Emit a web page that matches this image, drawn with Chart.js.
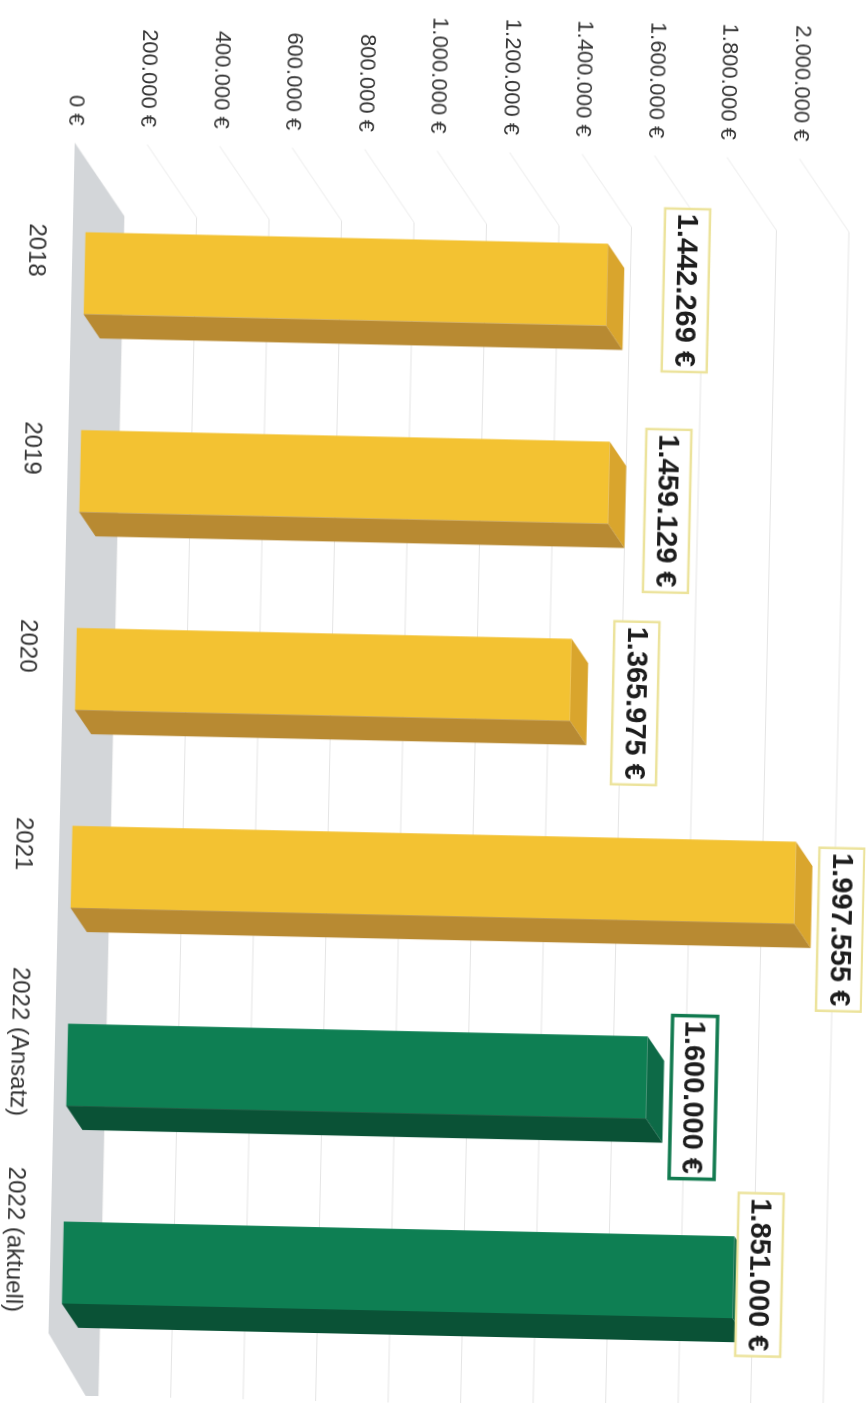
<!DOCTYPE html>
<html lang="de">
<head>
<meta charset="utf-8">
<title>Beträge 2018 bis 2022</title>
<script src="https://cdn.jsdelivr.net/npm/chart.js@4.4.1/dist/chart.umd.min.js"></script>
<style>
  html, body { margin: 0; padding: 0; background: #fff; overflow: hidden; }
  #blatt { position: relative; width: 868px; height: 1403px; overflow: hidden; background: #fff; }
  /* das Diagramm liegt im Original quer (und leicht schief eingescannt) */
  #diagramm { position: absolute; left: -267.5px; top: 267.5px; width: 1403px; height: 868px;
              transform: rotate(91.26deg); transform-origin: 50% 50%; }
</style>
</head>
<body>
<div id="blatt"><canvas id="diagramm" width="1403" height="868"></canvas></div>
<script>
// Daten
const jahre = ['2018', '2019', '2020', '2021', '2022 (Ansatz)', '2022 (aktuell)'];
const betraege = [1442269, 1459129, 1365975, 1997555, 1600000, 1851000];
const achseMin = 0;
const achseMax = 2000000;
const achseSchritt = 200000;

// Farben (Vorderseite, Deckel, Seite) je Balken
const gelb = ['#f3c232', '#d9a52d', '#b88a32'];
const gruen = ['#0e7f53', '#0d6a47', '#0a5236'];
const balkenFarben = [gelb, gelb, gelb, gelb, gruen, gruen];
const rahmenFarben = ['#ece39c', '#ece39c', '#ece39c', '#ece39c', '#117a4f', '#ece39c'];
// Lage der Wertfelder, von Hand verschoben wie im Original
const feldVersatz = [4, 27, 22, 46, 19, -3];
const feldAbstand = [-79, -59, -65, -46, -47, -26];

function euro(v) {
  return String(v).replace(/\B(?=(\d{3})+(?!\d))/g, '.') + ' €';
}

Chart.defaults.font.family = '"Liberation Sans", Arial, sans-serif';

const tiefe = { x: 24, y: -17 };

const dreiD = {
  id: 'dreiD',
  beforeDatasetsDraw(chart) {
    const ctx = chart.ctx;
    const ca = chart.chartArea;
    const y = chart.scales.y;
    const y0 = y.getPixelForValue(0);
    ctx.save();
    ctx.lineWidth = 1.2;
    y.ticks.forEach(t => {
      const yv = y.getPixelForValue(t.value);
      // Seitenwand
      ctx.strokeStyle = 'rgba(0,0,0,0.06)';
      ctx.beginPath();
      ctx.moveTo(ca.left - 31, yv + 12.5);
      ctx.lineTo(ca.left + 41, yv - 38.5);
      ctx.stroke();
      // Rückwand
      ctx.strokeStyle = 'rgba(0,0,0,0.1)';
      ctx.beginPath();
      ctx.moveTo(ca.left + 41, yv - 38.5);
      ctx.lineTo(chart.width, yv - 38.5);
      ctx.stroke();
    });
    // Boden
    ctx.fillStyle = '#d3d6d9';
    ctx.beginPath();
    ctx.moveTo(ca.left - 31, y0 + 12.5);
    ctx.lineTo(ca.left + 41, y0 - 38.5);
    ctx.lineTo(chart.width + 20, y0 - 38.5);
    ctx.lineTo(ca.right - 28, y0 + 12.5);
    ctx.closePath();
    ctx.fill();
    ctx.restore();
  },
  afterDatasetsDraw(chart) {
    const ctx = chart.ctx;
    const meta = chart.getDatasetMeta(0);
    ctx.save();
    meta.data.forEach((bar, i) => {
      const f = balkenFarben[i];
      const l = bar.x - bar.width / 2;
      const r = bar.x + bar.width / 2;
      // Deckel
      ctx.fillStyle = f[1];
      ctx.beginPath();
      ctx.moveTo(l, bar.y);
      ctx.lineTo(r, bar.y);
      ctx.lineTo(r + tiefe.x, bar.y + tiefe.y);
      ctx.lineTo(l + tiefe.x, bar.y + tiefe.y);
      ctx.closePath();
      ctx.fill();
      // Seite
      ctx.fillStyle = f[2];
      ctx.beginPath();
      ctx.moveTo(r, bar.y);
      ctx.lineTo(r, bar.base);
      ctx.lineTo(r + tiefe.x, bar.base + tiefe.y);
      ctx.lineTo(r + tiefe.x, bar.y + tiefe.y);
      ctx.closePath();
      ctx.fill();

      // Wertfeld
      const cx = bar.x + feldVersatz[i];
      const cy = bar.y + feldAbstand[i];
      const w = 163, h = 45;
      ctx.fillStyle = '#fff';
      ctx.fillRect(cx - w / 2, cy - h / 2, w, h);
      ctx.strokeStyle = rahmenFarben[i];
      ctx.lineWidth = i === 4 ? 3.5 : 2.5;
      ctx.strokeRect(cx - w / 2, cy - h / 2, w, h);
      ctx.fillStyle = '#1d1d1d';
      ctx.font = 'bold 29px "Liberation Sans", Arial, sans-serif';
      ctx.textAlign = 'center';
      ctx.textBaseline = 'middle';
      ctx.fillText(euro(betraege[i]), cx, cy + 1);
    });
    ctx.restore();
  }
};

new Chart(document.getElementById('diagramm'), {
  type: 'bar',
  data: {
    labels: jahre,
    datasets: [{
      data: betraege,
      backgroundColor: balkenFarben.map(f => f[0]),
      borderWidth: 0,
      barPercentage: 0.414,
      categoryPercentage: 1.0
    }]
  },
  options: {
    responsive: false,
    devicePixelRatio: 1,
    animation: false,
    layout: { padding: { top: 68.5, right: 34, bottom: 0, left: 0 } },
    plugins: { legend: { display: false }, tooltip: { enabled: false } },
    scales: {
      x: {
        grid: { display: false, drawTicks: false },
        border: { display: false },
        ticks: {
          color: '#333',
          font: { size: 24 },
          padding: 34,
          labelOffset: -22,
          maxRotation: 0,
          autoSkip: false
        },
        afterFit: s => { s.height = 74.5; }
      },
      y: {
        min: achseMin,
        max: achseMax,
        grid: { display: false, drawTicks: false },
        border: { display: false },
        ticks: {
          stepSize: achseSchritt,
          color: '#333',
          font: { size: 22 },
          padding: 48.5,
          labelOffset: 12.5,
          callback: v => euro(v)
        },
        afterFit: s => { s.width = 181.5; }
      }
    }
  },
  plugins: [dreiD]
});
</script>
</body>
</html>
